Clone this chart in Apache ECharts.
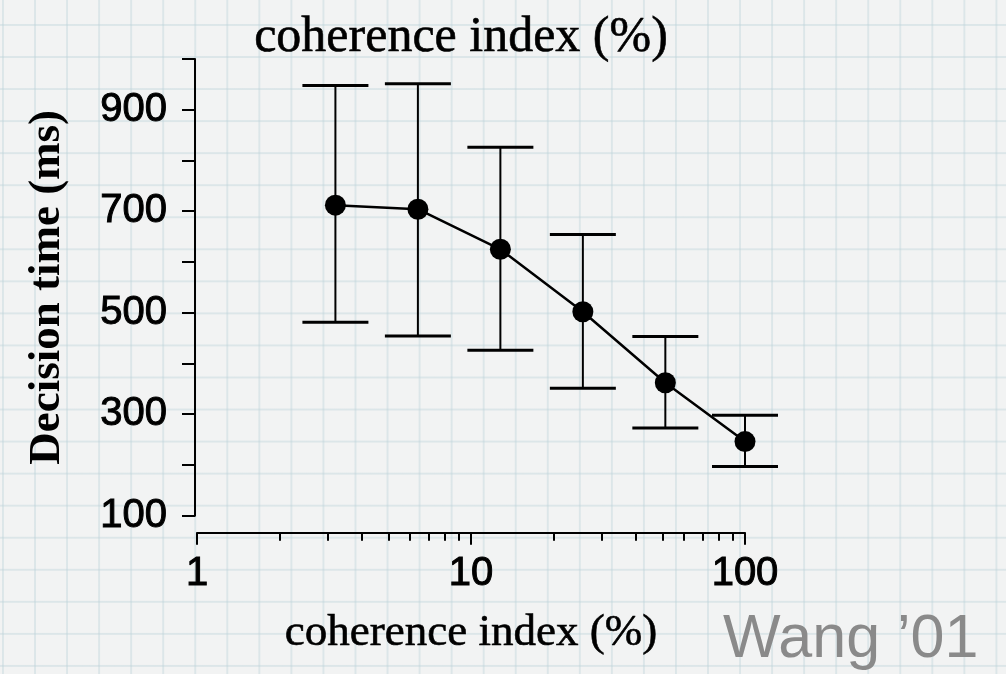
<!DOCTYPE html>
<html><head><meta charset="utf-8">
<script src="https://cdn.jsdelivr.net/npm/echarts@6/dist/echarts.min.js"></script>
<style>
html,body{margin:0;padding:0;width:1006px;height:674px;overflow:hidden;}
body{background-color:#f2f3f3;
background-image: linear-gradient(to right, rgba(190,212,218,0.42) 2px, transparent 2px), linear-gradient(to bottom, rgba(190,212,218,0.42) 2px, transparent 2px);
background-size: 32.05px 32.05px;
background-position: 2px 24px;}
#chart{width:1006px;height:674px;}
</style></head>
<body><div id="chart"></div>
<script>
// Data
const coherence = [3.2, 6.4, 12.8, 25.6, 51.2, 100];
const meanTime  = [712, 704, 625, 502, 362, 246];
const upperTime = [948, 951, 826, 654, 453, 298];
const lowerTime = [481, 454, 426, 351, 273, 197];
const yLabelValues = [100, 300, 500, 700, 900];
const xLabelValues = [1, 10, 100];

const chart = echarts.init(document.getElementById('chart'), null, {renderer: 'canvas'});

const serif = '"Liberation Serif", "Times New Roman", serif';
const sans = '"Liberation Sans", Arial, sans-serif';

const option = {
  backgroundColor: 'transparent',
  animation: false,
  grid: { left: 197, right: 261, top: 59, bottom: 158.3, containLabel: false },
  graphic: [
    { type: 'text', x: 461, y: 38,
      style: { text: 'coherence index (%)', fontFamily: serif, fontSize: 50, fill: '#000', align: 'center', verticalAlign: 'middle',
        stroke: '#000', lineWidth: 0.6 } },
    { type: 'text', x: 723, y: 640,
      style: { text: 'Wang \u201901', fontFamily: sans, fontSize: 61, fill: '#8a8a8a', align: 'left', verticalAlign: 'middle' } }
  ],
  xAxis: {
    type: 'log', logBase: 10, min: 1, max: 100,
    offset: 17,
    name: 'coherence index (%)', nameLocation: 'middle', nameGap: 78,
    nameTextStyle: { fontFamily: serif, fontSize: 45, color: '#000', textBorderColor: '#000', textBorderWidth: 0.6 },
    axisLine: { show: true, lineStyle: { color: '#000', width: 2 } },
    axisTick: { show: true, length: 12, lineStyle: { color: '#000', width: 2 } },
    minorTick: { show: true, splitNumber: 9, length: 8, lineStyle: { color: '#000', width: 2 } },
    axisLabel: { margin: 21, fontFamily: sans, fontSize: 40, color: '#000', textBorderColor: '#000', textBorderWidth: 1,
      formatter: v => (xLabelValues.indexOf(Math.round(v)) >= 0 ? String(Math.round(v)) : '') },
    splitLine: { show: false }, minorSplitLine: { show: false }
  },
  yAxis: {
    type: 'value', min: 100, max: 1000, interval: 100,
    offset: 2,
    name: 'Decision time (ms)', nameLocation: 'middle', nameGap: 125, nameRotate: 90,
    nameTextStyle: { fontFamily: serif, fontSize: 45, fontWeight: 'bold', color: '#000' },
    axisLine: { show: true, lineStyle: { color: '#000', width: 2 } },
    axisTick: { show: true, length: 13, lineStyle: { color: '#000', width: 2 } },
    axisLabel: { margin: 28, fontFamily: sans, fontSize: 40, color: '#000', textBorderColor: '#000', textBorderWidth: 1,
      formatter: v => (yLabelValues.indexOf(v) >= 0 ? String(v) : '') },
    splitLine: { show: false }
  },
  series: [
    {
      type: 'custom',
      name: 'error',
      z: 2,
      data: coherence.map((c, i) => [c, lowerTime[i], upperTime[i]]),
      encode: { x: 0, y: [1, 2] },
      renderItem: function (params, api) {
        const x = api.value(0);
        const pLo = api.coord([x, api.value(1)]);
        const pHi = api.coord([x, api.value(2)]);
        const hw = 33;
        return {
          type: 'group',
          children: [
            { type: 'line', shape: { x1: pHi[0], y1: pHi[1], x2: pLo[0], y2: pLo[1] }, style: { stroke: '#000', lineWidth: 2 } },
            { type: 'line', shape: { x1: pHi[0] - hw, y1: pHi[1], x2: pHi[0] + hw, y2: pHi[1] }, style: { stroke: '#000', lineWidth: 3 } },
            { type: 'line', shape: { x1: pLo[0] - hw, y1: pLo[1], x2: pLo[0] + hw, y2: pLo[1] }, style: { stroke: '#000', lineWidth: 3 } }
          ]
        };
      }
    },
    {
      type: 'line',
      name: 'mean',
      z: 3,
      data: coherence.map((c, i) => [c, meanTime[i]]),
      symbol: 'circle', symbolSize: 21,
      itemStyle: { color: '#000', borderWidth: 0 },
      lineStyle: { color: '#000', width: 2.5 }
    }
  ]
};
chart.setOption(option);
</script>
</body></html>
